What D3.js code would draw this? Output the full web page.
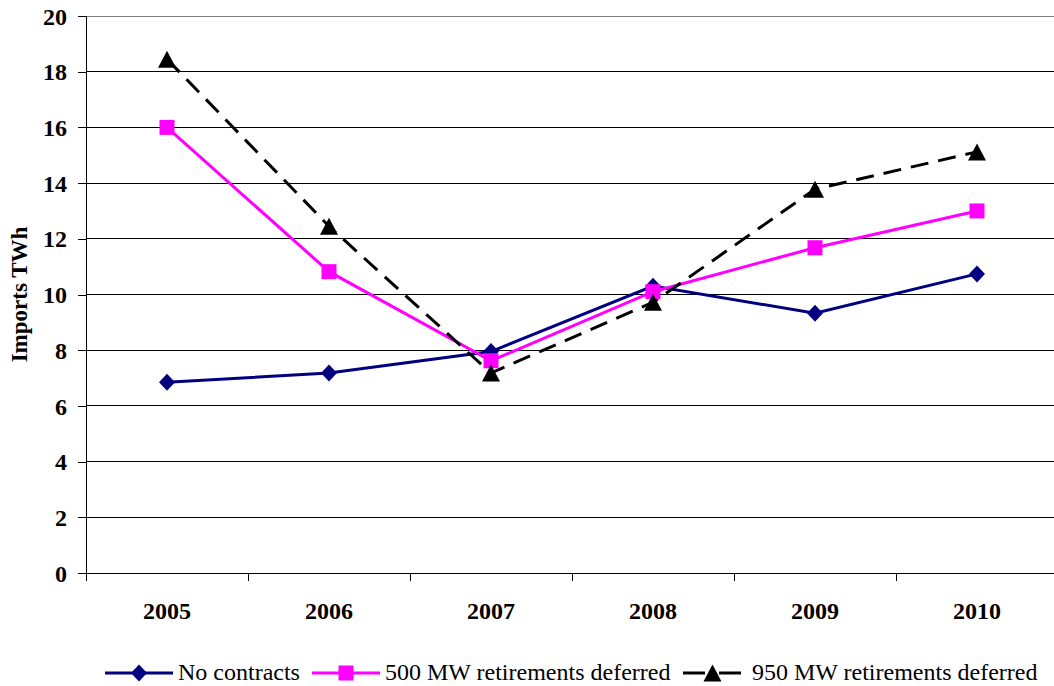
<!DOCTYPE html>
<html>
<head>
<meta charset="utf-8">
<script src="https://cdn.jsdelivr.net/npm/d3@7"></script>
<style>
  html, body { margin: 0; padding: 0; background: #fff; }
  svg { display: block; }
  text { font-family: "Liberation Serif", "Times New Roman", serif; fill: #000; }
</style>
</head>
<body>
<svg id="chart" width="1054" height="686"></svg>
<script>
// Annual import scenarios (TWh)
const years = ["2005", "2006", "2007", "2008", "2009", "2010"];
const noContracts = [6.85, 7.18, 7.95, 10.3, 9.33, 10.74];
const deferred500 = [16.0, 10.82, 7.62, 10.1, 11.68, 13.0];
const deferred950 = [18.45, 12.45, 7.18, 9.72, 13.78, 15.12];
const yTicks = [0, 2, 4, 6, 8, 10, 12, 14, 16, 18, 20];

const series = [
  { name: "No contracts", values: noContracts, color: "#000080", dash: null, marker: "diamond" },
  { name: "500 MW retirements deferred", values: deferred500, color: "#FF00FF", dash: null, marker: "square" },
  { name: "950 MW retirements deferred", values: deferred950, color: "#000000", dash: "18,10", marker: "triangle" }
];

const svg = d3.select("#chart");
const plotLeft = 86, plotTop = 16, plotBottom = 573, band = 162;

const x = d3.scaleBand().domain(years).range([plotLeft, plotLeft + years.length * band]);
const y = d3.scaleLinear().domain([0, 20]).range([plotBottom, plotTop]);

// horizontal gridlines
svg.append("g")
  .selectAll("line")
  .data(yTicks.slice(1))
  .join("line")
  .attr("x1", plotLeft).attr("x2", 1054)
  .attr("y1", d => y(d)).attr("y2", d => y(d))
  .attr("stroke", d => d === 20 ? "#808080" : "#000")
  .attr("stroke-width", 1)
  .attr("shape-rendering", "crispEdges");

// y axis
const yAxis = svg.append("g")
  .attr("transform", `translate(${plotLeft},0)`)
  .call(d3.axisLeft(y).tickValues(yTicks).tickSize(8).tickPadding(11).tickFormat(d3.format("d")));
yAxis.attr("font-family", null).attr("font-size", null);
yAxis.select(".domain").attr("stroke", "#000").attr("d", `M0,${plotTop}V${plotBottom}`)
  .attr("shape-rendering", "crispEdges");
yAxis.selectAll(".tick line").attr("stroke", "#000").attr("shape-rendering", "crispEdges");
yAxis.selectAll(".tick text")
  .attr("font-size", 24).attr("font-weight", "bold")
  .attr("fill", "#000").attr("dy", "0.34em");

// x axis with tick marks between categories
const xAxisG = svg.append("g").attr("transform", `translate(0,${plotBottom})`);
xAxisG.append("line")
  .attr("x1", plotLeft).attr("x2", 1054)
  .attr("y1", 0).attr("y2", 0)
  .attr("stroke", "#000").attr("shape-rendering", "crispEdges");
xAxisG.selectAll("line.tick")
  .data(years)
  .join("line")
  .attr("class", "tick")
  .attr("x1", d => x(d)).attr("x2", d => x(d))
  .attr("y1", 0).attr("y2", 8)
  .attr("stroke", "#000").attr("shape-rendering", "crispEdges");
xAxisG.selectAll("text")
  .data(years)
  .join("text")
  .attr("x", d => x(d) + x.bandwidth() / 2)
  .attr("y", 46)
  .attr("text-anchor", "middle")
  .attr("font-size", 24).attr("font-weight", "bold")
  .text(d => d);

// y axis title
svg.append("text")
  .attr("transform", `translate(27,${(plotTop + plotBottom) / 2}) rotate(-90)`)
  .attr("text-anchor", "middle")
  .attr("font-size", 23).attr("font-weight", "bold")
  .text("Imports TWh");

// marker shapes
function markerPath(m) {
  const p = d3.path();
  if (m === "diamond") {
    p.moveTo(0, -8.5); p.lineTo(8, 0); p.lineTo(0, 8.5); p.lineTo(-8, 0); p.closePath();
  } else if (m === "square") {
    p.rect(-7.5, -7.5, 15, 15);
  } else {
    p.moveTo(0, -8.5); p.lineTo(9, 8.5); p.lineTo(-9, 8.5); p.closePath();
  }
  return p.toString();
}

const line = d3.line()
  .x((d, i) => x(years[i]) + x.bandwidth() / 2)
  .y(d => y(d));

series.forEach(s => {
  svg.append("path")
    .datum(s.values)
    .attr("d", line)
    .attr("fill", "none")
    .attr("stroke", s.color)
    .attr("stroke-width", 3)
    .attr("stroke-dasharray", s.dash);
});

series.forEach(s => {
  svg.append("g")
    .selectAll("path")
    .data(s.values)
    .join("path")
    .attr("transform", (d, i) => `translate(${x(years[i]) + x.bandwidth() / 2},${y(d)})`)
    .attr("d", markerPath(s.marker))
    .attr("fill", s.color);
});

// legend
const legendY = 673;
const legendItems = [
  { x1: 105, x2: 173, tx: 178 },
  { x1: 312, x2: 380, tx: 385 },
  { x1: 683, x2: 742, tx: 752 }
];
series.forEach((s, i) => {
  const L = legendItems[i];
  const g = svg.append("g");
  g.append("line")
    .attr("x1", L.x1).attr("x2", L.x2)
    .attr("y1", legendY).attr("y2", legendY)
    .attr("stroke", s.color).attr("stroke-width", 3)
    .attr("stroke-dasharray", s.dash ? "22,14" : null);
  g.append("path")
    .attr("transform", `translate(${(L.x1 + L.x2) / 2},${legendY})`)
    .attr("d", markerPath(s.marker))
    .attr("fill", s.color);
  g.append("text")
    .attr("x", L.tx).attr("y", legendY + 7)
    .attr("font-size", 24)
    .text(s.name);
});
</script>
</body>
</html>
